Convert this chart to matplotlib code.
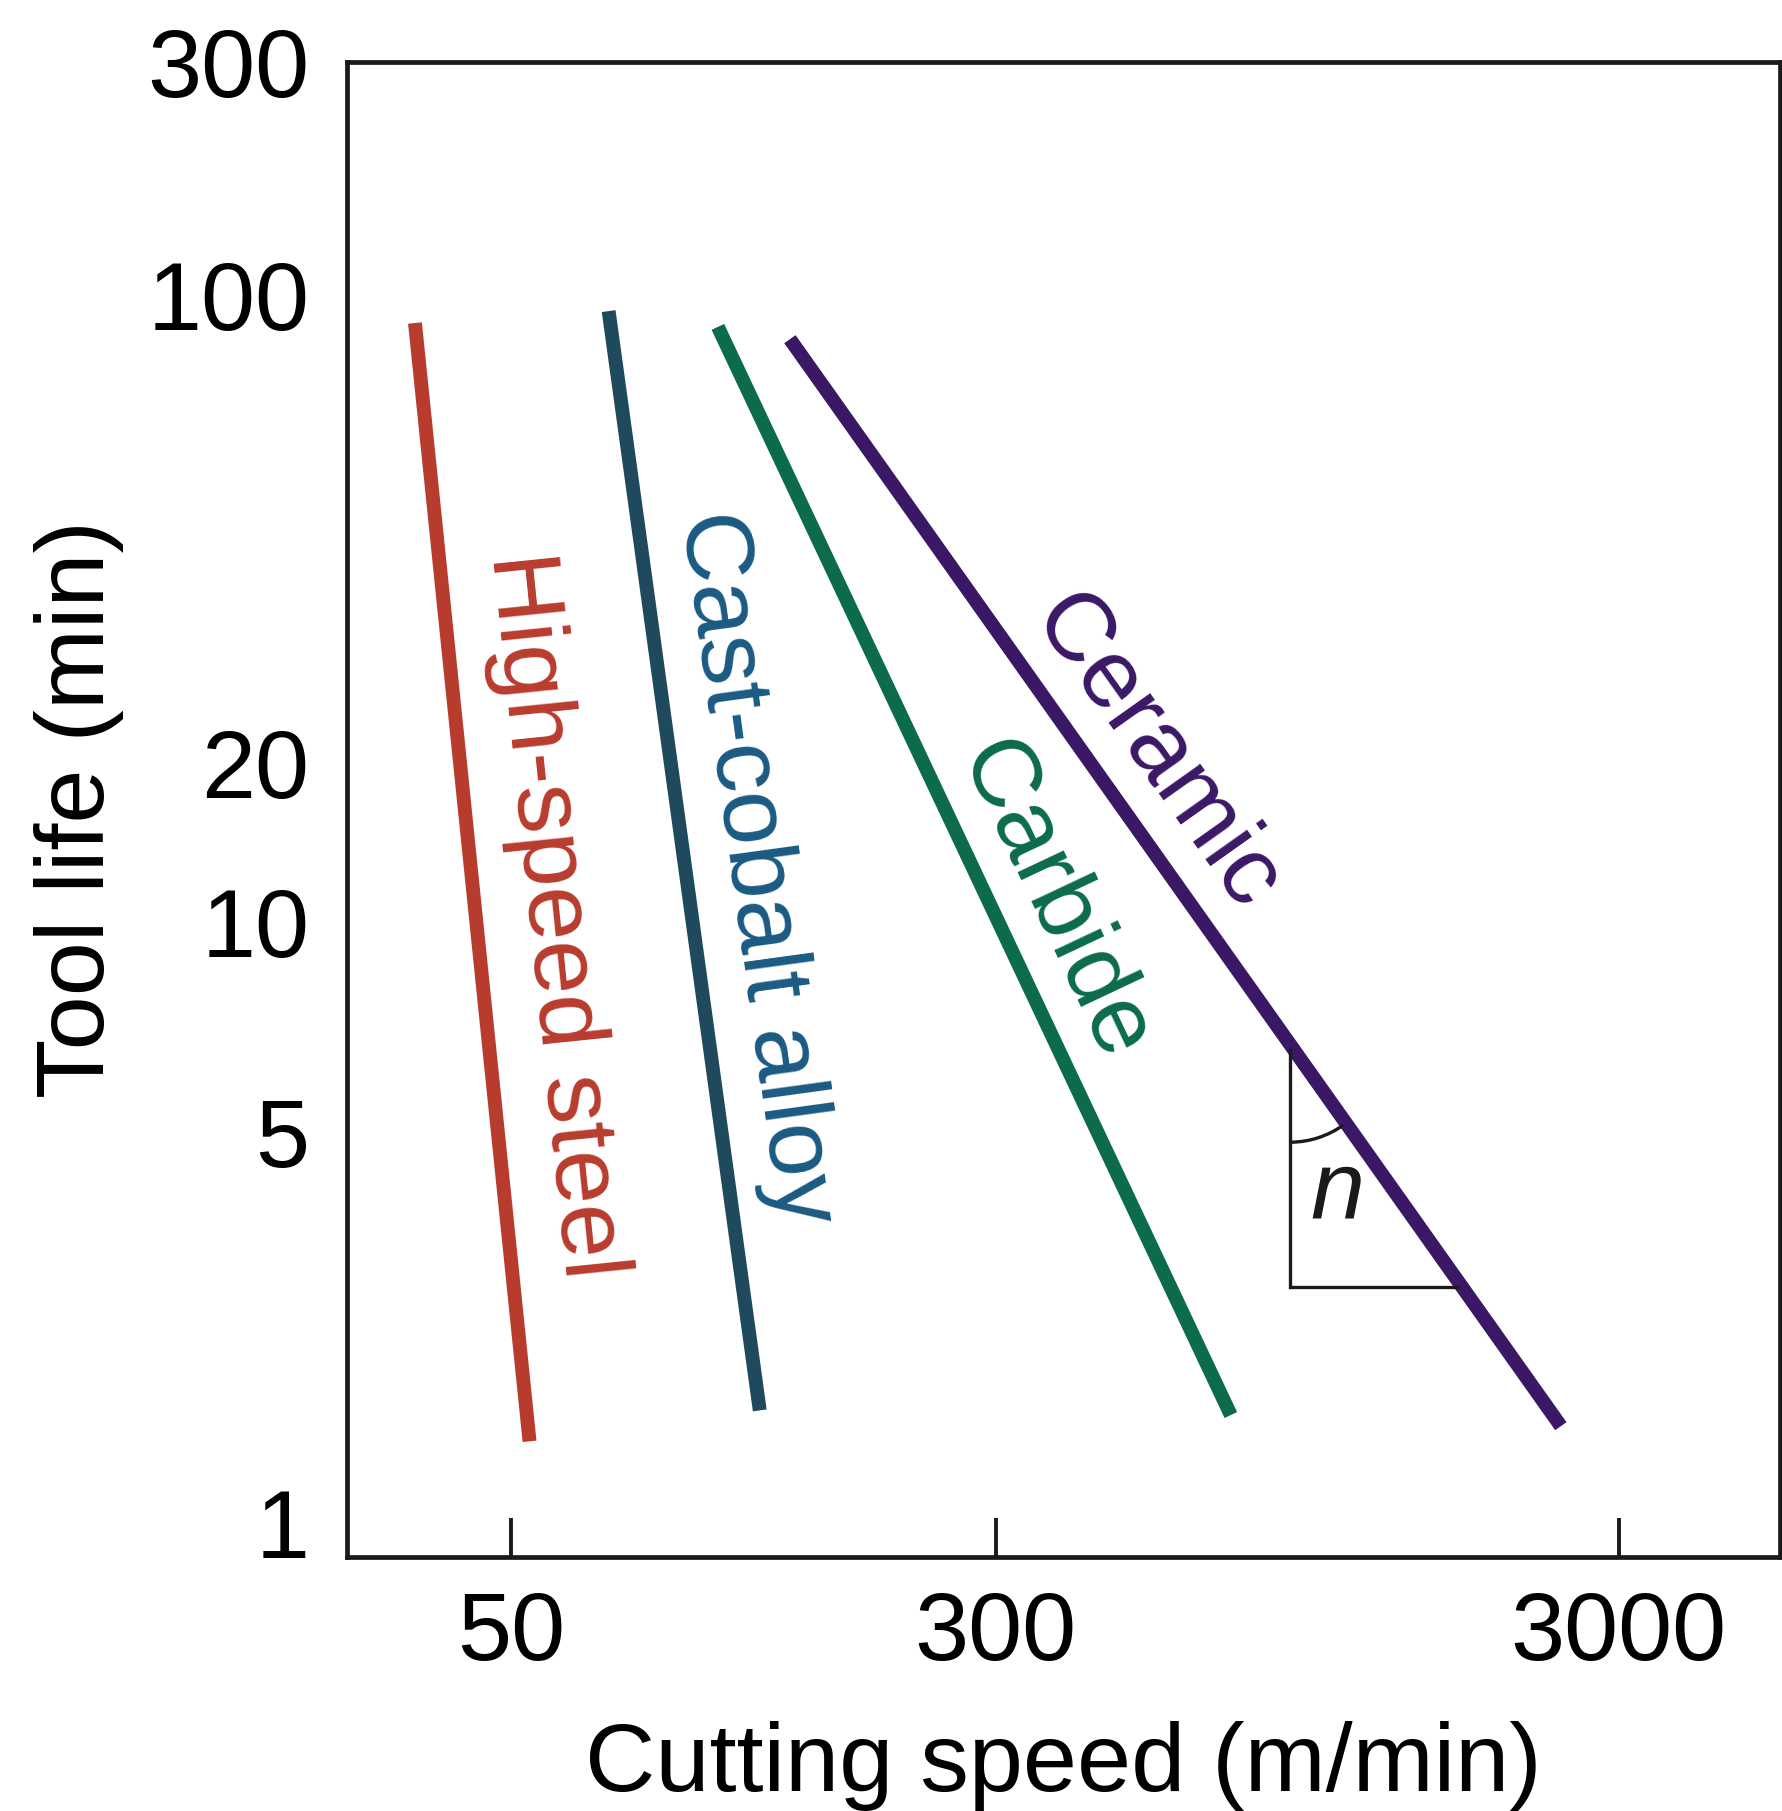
import numpy as np
import matplotlib
matplotlib.use("Agg")
import matplotlib.pyplot as plt
from matplotlib.patches import Arc
from matplotlib.transforms import IdentityTransform
from matplotlib.ticker import FixedLocator, NullLocator, FixedFormatter

plt.rcParams['font.family'] = ['Liberation Sans', 'DejaVu Sans']

# ---------------- data ----------------
materials = ['High-speed steel', 'Cast-cobalt alloy', 'Carbide', 'Ceramic']
speed_start = [35.1, 71.8, 107.5, 140.3]      # m/min at the upper end of each line
speed_end = [53.6, 125.5, 715.6, 2423.0]      # m/min at the lower end
life_start = [90.8, 94.6, 89.6, 85.9]         # min
life_end = [1.40, 1.59, 1.56, 1.49]           # min
line_colors = ['#b83c2e', '#1f4a5e', '#0b6b4b', '#3a1866']
label_colors = ['#b83c2e', '#1b5a82', '#0b6b4b', '#3a1866']

xticks = [50, 300, 3000]
xtick_labels = ['50', '300', '3000']
yticks = [1, 5, 10, 20, 100, 300]
ytick_labels = ['1', '5', '10', '20', '100', '300']
ytick_marks = [5, 10, 20, 100]

triangle_speed = [890, 890, 1650]
triangle_life = [6.55, 2.64, 2.64]

# the schematic's life axis is not uniformly logarithmic: piecewise log scale
y_anchor_values = [1, 5, 10, 20, 100, 300]
y_anchor_pos = [34, 425, 635, 794, 1262, 1495]


def piecewise_log(vals, pos):
    lv = np.log10(np.asarray(vals, float))
    ps = np.asarray(pos, float)
    s0 = (ps[1] - ps[0]) / (lv[1] - lv[0])
    s1 = (ps[-1] - ps[-2]) / (lv[-1] - lv[-2])

    def fwd(v):
        v = np.asarray(v, float)
        l = np.log10(np.clip(v, 1e-12, None))
        out = np.interp(l, lv, ps)
        out = np.where(l < lv[0], ps[0] + (l - lv[0]) * s0, out)
        out = np.where(l > lv[-1], ps[-1] + (l - lv[-1]) * s1, out)
        return out

    def inv(p):
        p = np.asarray(p, float)
        out = np.interp(p, ps, lv)
        out = np.where(p < ps[0], lv[0] + (p - ps[0]) / s0, out)
        out = np.where(p > ps[-1], lv[-1] + (p - ps[-1]) / s1, out)
        return 10 ** out

    return fwd, inv


fig = plt.figure(figsize=(17.83, 18.11), dpi=100)
ax = fig.add_axes([0.1946, 0.1403, 0.8037, 0.8255])

ax.set_xscale('log')
ax.set_yscale('function', functions=piecewise_log(y_anchor_values, y_anchor_pos))
ax.set_xlim(27.3, 5445)
ax.set_ylim(0.87, 300)

for i in range(len(materials)):
    ax.plot([speed_start[i], speed_end[i]], [life_start[i], life_end[i]],
            color=line_colors[i], lw=10, solid_capstyle='butt')

# axes styling
for sp in ax.spines.values():
    sp.set_linewidth(3.4)
    sp.set_color('#1a1a1a')

ax.xaxis.set_major_locator(FixedLocator(xticks))
ax.xaxis.set_major_formatter(FixedFormatter(xtick_labels))
ax.xaxis.set_minor_locator(NullLocator())
ax.tick_params(axis='x', which='major', direction='in', length=28, width=2.8,
               pad=24, labelsize=70, color='#1a1a1a')

ax.yaxis.set_major_locator(FixedLocator(yticks))
ax.yaxis.set_major_formatter(FixedFormatter(ytick_labels))
ax.yaxis.set_minor_locator(FixedLocator(ytick_marks))
ax.tick_params(axis='y', which='major', direction='in', length=0, pad=27, labelsize=70)
ax.tick_params(axis='y', which='minor', direction='in', length=28, width=2.8,
               color='#1a1a1a', labelleft=False)

ax.set_xlabel('Cutting speed (m/min)', fontsize=70)
ax.xaxis.label.set_va('center')
ax.xaxis.set_label_coords(0.5, -0.1400)
ax.set_ylabel('Tool life (min)', fontsize=70)
ax.yaxis.label.set_va('center')
ax.yaxis.set_label_coords(-0.1870, 0.5)

# material labels along their lines
label_pos = [(0.1445, 0.4294), (0.2854, 0.4609), (0.4927, 0.4388), (0.5639, 0.5378)]
for i, name in enumerate(materials):
    p0 = ax.transData.transform((speed_start[i], life_start[i]))
    p1 = ax.transData.transform((speed_end[i], life_end[i]))
    ang = np.degrees(np.arctan2(p1[1] - p0[1], p1[0] - p0[0]))
    ax.text(label_pos[i][0], label_pos[i][1], name, transform=ax.transAxes,
            rotation=ang, rotation_mode='anchor', ha='center', va='center',
            fontsize=70, color=label_colors[i])

# slope triangle
ax.plot(triangle_speed, triangle_life, color='#1a1a1a', lw=2.4,
        solid_joinstyle='miter')
v = ax.transData.transform((triangle_speed[0], triangle_life[0]))
c0 = ax.transData.transform((speed_start[3], life_start[3]))
c1 = ax.transData.transform((speed_end[3], life_end[3]))
cer_ang = np.degrees(np.arctan2(c1[1] - c0[1], c1[0] - c0[0]))
arc = Arc(v, 184, 184, theta1=-90, theta2=cer_ang, transform=IdentityTransform(),
          color='#1a1a1a', lw=2.4)
fig.add_artist(arc)
ax.text(0.6909, 0.2435, 'n', transform=ax.transAxes, fontsize=70,
        style='italic', ha='center', va='center', color='#1a1a1a')

fig.savefig('out.png', dpi=100)
